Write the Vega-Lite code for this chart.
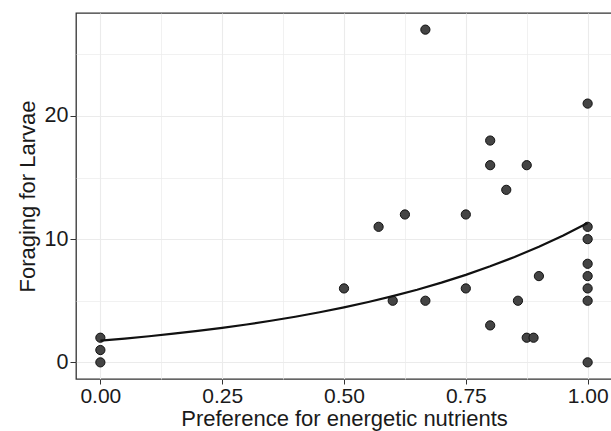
{
  "$schema": "https://vega.github.io/schema/vega-lite/v6.json",
  "autosize": "none",
  "padding": {"left": 76, "top": 13, "right": 0, "bottom": 52},
  "width": 536,
  "height": 366,
  "background": "white",
  "config": {
    "view": {"stroke": "#333333", "strokeWidth": 1.3},
    "font": "Liberation Sans"
  },
  "datasets": {
    "pts": [
      {"pref": 0, "larvae": 0},
      {"pref": 0, "larvae": 1},
      {"pref": 0, "larvae": 2},
      {"pref": 0.5, "larvae": 6},
      {"pref": 0.571, "larvae": 11},
      {"pref": 0.6, "larvae": 5},
      {"pref": 0.625, "larvae": 12},
      {"pref": 0.667, "larvae": 27},
      {"pref": 0.667, "larvae": 5},
      {"pref": 0.75, "larvae": 12},
      {"pref": 0.75, "larvae": 6},
      {"pref": 0.8, "larvae": 18},
      {"pref": 0.8, "larvae": 16},
      {"pref": 0.8, "larvae": 3},
      {"pref": 0.833, "larvae": 14},
      {"pref": 0.857, "larvae": 5},
      {"pref": 0.875, "larvae": 16},
      {"pref": 0.875, "larvae": 2},
      {"pref": 0.889, "larvae": 2},
      {"pref": 0.9, "larvae": 7},
      {"pref": 1, "larvae": 21},
      {"pref": 1, "larvae": 11},
      {"pref": 1, "larvae": 10},
      {"pref": 1, "larvae": 8},
      {"pref": 1, "larvae": 7},
      {"pref": 1, "larvae": 6},
      {"pref": 1, "larvae": 5},
      {"pref": 1, "larvae": 0}
    ],
    "fit": [
      {"pref": 0, "larvae": 1.76},
      {"pref": 0.05, "larvae": 1.932},
      {"pref": 0.1, "larvae": 2.12},
      {"pref": 0.15, "larvae": 2.326},
      {"pref": 0.2, "larvae": 2.553},
      {"pref": 0.25, "larvae": 2.802},
      {"pref": 0.3, "larvae": 3.075},
      {"pref": 0.35, "larvae": 3.375},
      {"pref": 0.4, "larvae": 3.704},
      {"pref": 0.45, "larvae": 4.065},
      {"pref": 0.5, "larvae": 4.461},
      {"pref": 0.55, "larvae": 4.895},
      {"pref": 0.6, "larvae": 5.373},
      {"pref": 0.65, "larvae": 5.896},
      {"pref": 0.7, "larvae": 6.471},
      {"pref": 0.75, "larvae": 7.101},
      {"pref": 0.8, "larvae": 7.794},
      {"pref": 0.85, "larvae": 8.553},
      {"pref": 0.9, "larvae": 9.387},
      {"pref": 0.95, "larvae": 10.302},
      {"pref": 1, "larvae": 11.306}
    ]
  },
  "layer": [
    {
      "data": {"name": "pts"},
      "mark": {"type": "point", "filled": true, "fill": "#444444", "stroke": "#111111", "strokeWidth": 1, "size": 85, "opacity": 1},
      "encoding": {
        "x": {
          "field": "pref", "type": "quantitative",
          "scale": {"domain": [-0.05, 1.05], "nice": false, "zero": false},
          "axis": {
            "title": "Preference for energetic nutrients",
            "domain": false,
            "gridColor": "#ebebeb",
            "tickColor": "#333333",
            "tickSize": 5,
            "labelFont": "Liberation Sans",
            "labelFontSize": 21,
            "labelColor": "#1a1a1a",
            "titleFont": "Liberation Sans",
            "titleFontSize": 22,
            "titleFontWeight": "normal",
            "titleColor": "#1a1a1a",
            "values": [0, 0.125, 0.25, 0.375, 0.5, 0.625, 0.75, 0.875, 1],
            "format": ".2f",
            "labelExpr": "(round(datum.value * 1000) % 250 === 0) ? datum.label : ''",
            "tickOpacity": {"condition": {"test": "round(datum.value * 1000) % 250 === 0", "value": 1}, "value": 0},
            "gridWidth": {"condition": {"test": "round(datum.value * 1000) % 250 === 0", "value": 1.1}, "value": 0.7},
            "labelPadding": 1,
            "titlePadding": 2
          }
        },
        "y": {
          "field": "larvae", "type": "quantitative",
          "scale": {"domain": [-1.35, 28.35], "nice": false, "zero": false},
          "axis": {
            "title": "Foraging for Larvae",
            "domain": false,
            "gridColor": "#ebebeb",
            "tickColor": "#333333",
            "tickSize": 6,
            "labelFont": "Liberation Sans",
            "labelFontSize": 21.5,
            "labelColor": "#1a1a1a",
            "titleFont": "Liberation Sans",
            "titleFontSize": 22,
            "titleFontWeight": "normal",
            "titleColor": "#1a1a1a",
            "values": [0, 5, 10, 15, 20, 25],
            "labelExpr": "(datum.value % 10 === 0) ? datum.label : ''",
            "tickOpacity": {"condition": {"test": "datum.value % 10 === 0", "value": 1}, "value": 0},
            "gridWidth": {"condition": {"test": "datum.value % 10 === 0", "value": 1.1}, "value": 0.7},
            "labelPadding": 2,
            "titlePadding": 5
          }
        }
      }
    },
    {
      "data": {"name": "fit"},
      "mark": {"type": "line", "color": "#111111", "strokeWidth": 2.2},
      "encoding": {
        "x": {"field": "pref", "type": "quantitative"},
        "y": {"field": "larvae", "type": "quantitative"}
      }
    }
  ]
}
